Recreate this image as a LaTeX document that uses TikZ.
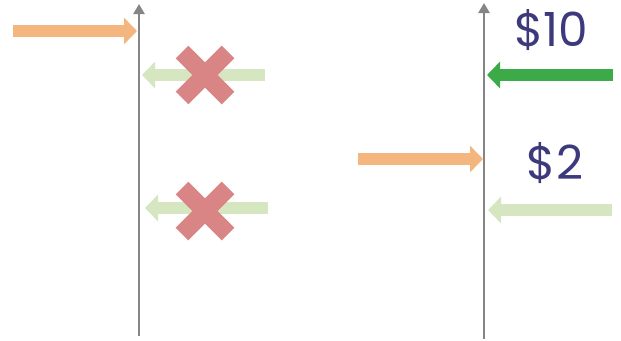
\documentclass[tikz,border=0pt]{standalone}
\usepackage{fontspec}
\newfontfamily\pricefont{Poppins}
\usetikzlibrary{arrows.meta}

\definecolor{axisgray}{HTML}{858585}
\definecolor{bidorange}{HTML}{F4B67E}
\definecolor{paleoffer}{HTML}{D6E6C0}
\definecolor{liveoffer}{HTML}{3DAA48}
\definecolor{crossred}{HTML}{D98585}
\definecolor{pricetext}{HTML}{3D3A7C}

\tikzset{
  axisline/.style={draw=axisgray, line width=2.8pt, -{Triangle[width=11pt,length=10pt]}},
  flow/.style={line width=12pt, -{Triangle[width=26pt,length=13pt]}},
  bidarrow/.style={flow, draw=bidorange},
  paleflow/.style={flow, draw=paleoffer},
  liveflow/.style={flow, draw=liveoffer},
  crossarm/.style={draw=crossred, line width=18pt},
  pricelabel/.style={font=\pricefont\fontsize{47}{50}\selectfont, text=pricetext, inner sep=0pt},
}

\begin{document}
\begin{tikzpicture}[x=1pt,y=-1pt]
  \useasboundingbox (0,0) rectangle (621,340);

  % left price axis
  \coordinate (La0) at (139,336);
  \coordinate (La1) at (139,4);
  % right price axis
  \coordinate (Ra0) at (484,339);
  \coordinate (Ra1) at (484,3);

  % left side: incoming bid and rejected offers
  \coordinate (Lb0) at (13,31);
  \coordinate (Lb1) at (137,31);
  \coordinate (Lo1s) at (265,75);
  \coordinate (Lo1e) at (142,75);
  \coordinate (Lo2s) at (268,208);
  \coordinate (Lo2e) at (145,208);
  \coordinate (X1) at (205,75);
  \coordinate (X2) at (205,211);

  % right side: bid and offers
  \coordinate (Ro1s) at (613,75);
  \coordinate (Ro1e) at (487,75);
  \coordinate (Rb0) at (358,159);
  \coordinate (Rb1) at (483,159);
  \coordinate (Ro2s) at (612,210);
  \coordinate (Ro2e) at (488,210);

  % offers first so the crosses sit on top
  \draw[paleflow] (Lo1s) -- (Lo1e);
  \draw[paleflow] (Lo2s) -- (Lo2e);
  \draw[paleflow] (Ro2s) -- (Ro2e);
  \draw[liveflow] (Ro1s) -- (Ro1e);
  \draw[bidarrow] (Lb0) -- (Lb1);
  \draw[bidarrow] (Rb0) -- (Rb1);

  \draw[axisline] (La0) -- (La1);
  \draw[axisline] (Ra0) -- (Ra1);

  % rejection crosses
  \foreach \c in {X1,X2} {
    \draw[crossarm] ([shift={(-23,-23)}]\c) -- ([shift={(23,23)}]\c);
    \draw[crossarm] ([shift={(-23,23)}]\c) -- ([shift={(23,-23)}]\c);
  }

  % price labels
  \node[pricelabel] (p10) at (551,30) {\$10};
  \node[pricelabel] (p2) at (555,163) {\$2};
\end{tikzpicture}
\end{document}
